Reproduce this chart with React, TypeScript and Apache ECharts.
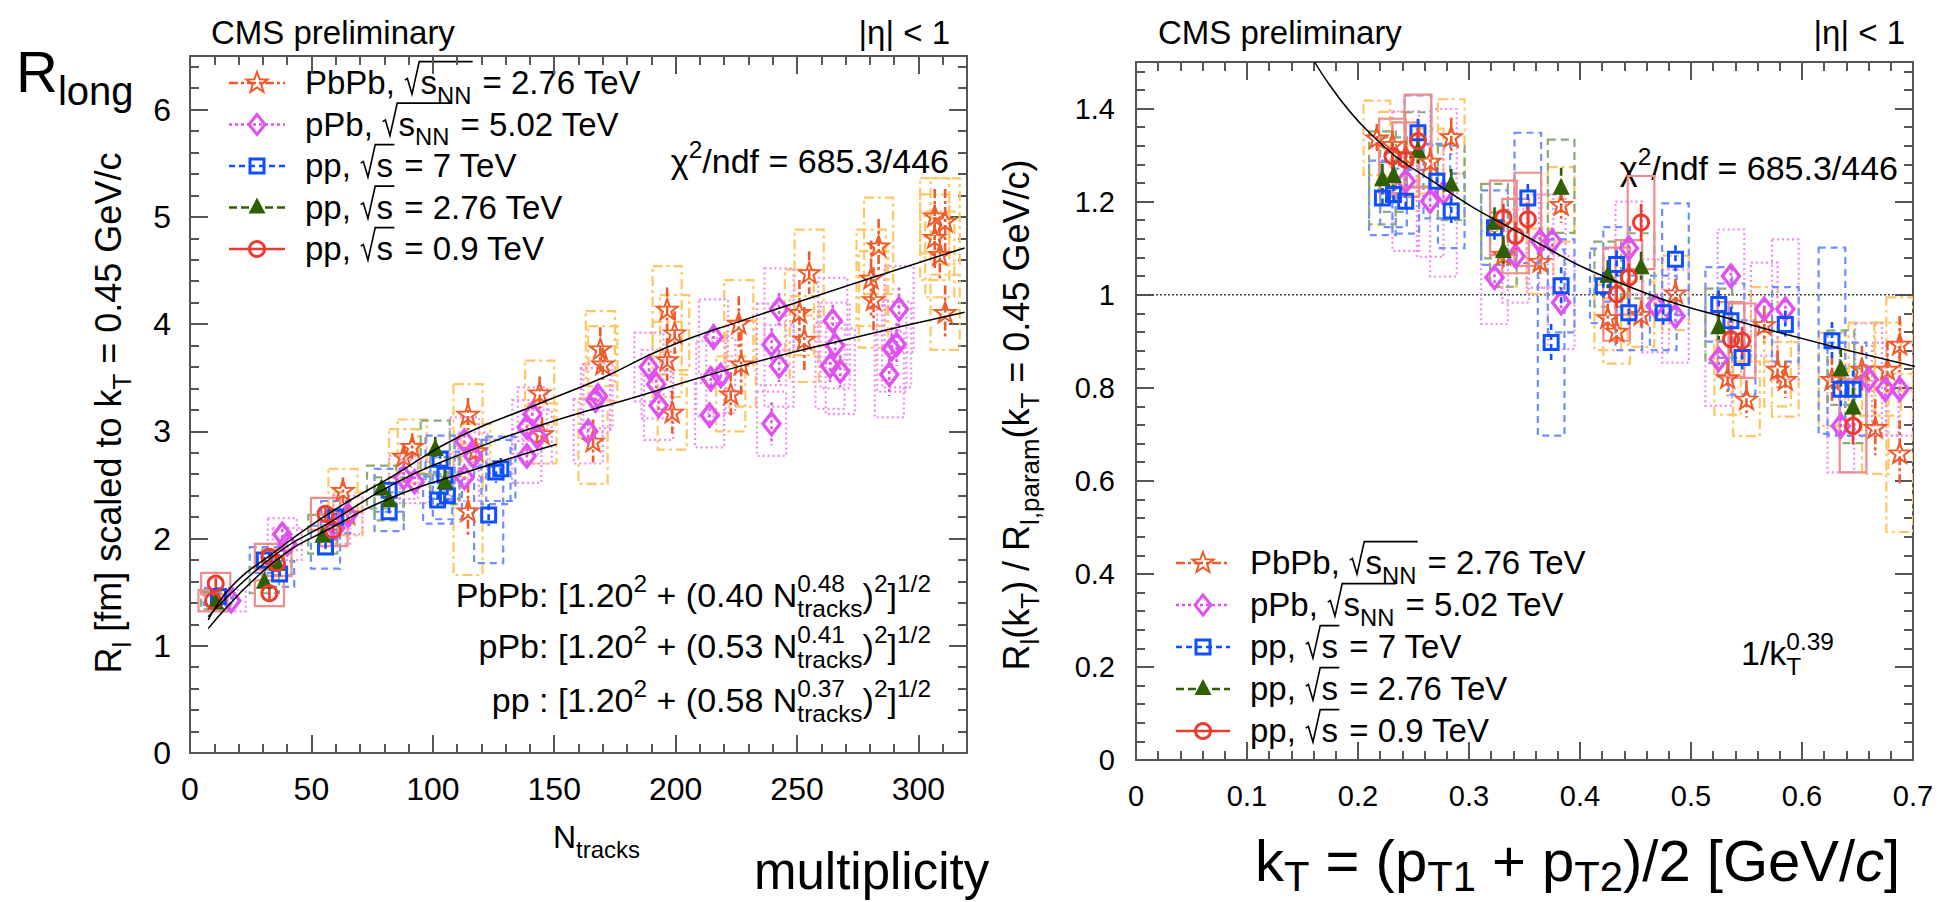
import React, { useEffect, useRef } from 'react';
import * as echarts from 'echarts';

const W = 1956;
const H = 902;
const FF = 'Liberation Sans';
const FONTCSS = '"Liberation Sans", Arial, Helvetica, sans-serif';

// ---------------- DATA ----------------
// Left panel: [Ntracks, R_l (fm), stat error, syst error]
const multPbPb = [
  [63, 2.45, 0.12, 0.2], [65, 2.23, 0.1, 0.2], [88, 2.77, 0.1, 0.25], [91.5, 2.86, 0.12, 0.25],
  [114.5, 3.16, 0.15, 0.28], [114.5, 2.26, 0.25, 0.6], [117.7, 2.82, 0.12, 0.25],
  [144, 3.36, 0.15, 0.3], [145, 2.98, 0.15, 0.28], [166, 2.91, 0.2, 0.4], [169, 3.77, 0.2, 0.35],
  [170, 3.63, 0.15, 0.35], [196.5, 4.14, 0.2, 0.4], [199.6, 3.92, 0.2, 0.35], [196.5, 3.67, 0.2, 0.35],
  [198.6, 3.18, 0.2, 0.35], [226, 4.01, 0.25, 0.4], [227, 3.63, 0.3, 0.4], [222.7, 3.35, 0.2, 0.35],
  [255, 4.48, 0.2, 0.4], [251, 4.11, 0.3, 0.4], [253, 3.86, 0.3, 0.4], [283.6, 4.73, 0.25, 0.45],
  [280.5, 4.43, 0.35, 0.45], [281.5, 4.23, 0.3, 0.45], [306.7, 5.01, 0.25, 0.35], [311, 4.96, 0.3, 0.4],
  [306.7, 4.81, 0.3, 0.4], [308.8, 4.65, 0.25, 0.4], [311, 4.11, 0.25, 0.35],
];
const multPPb = [
  [17, 1.42, 0.04, 0.1], [38, 2.04, 0.05, 0.15], [40, 1.95, 0.05, 0.15], [60, 2.1, 0.05, 0.15],
  [65, 2.22, 0.05, 0.18], [88, 2.57, 0.05, 0.2], [92.5, 2.53, 0.05, 0.2], [113, 2.91, 0.06, 0.22],
  [113, 2.57, 0.06, 0.22], [116.6, 2.77, 0.06, 0.22], [138.7, 3.04, 0.07, 0.25], [138.7, 2.77, 0.07, 0.25],
  [141, 3.16, 0.07, 0.25], [143, 2.95, 0.07, 0.25], [164, 3.0, 0.08, 0.3], [167, 3.29, 0.08, 0.3],
  [168, 3.33, 0.08, 0.3], [189, 3.6, 0.1, 0.32], [192, 3.44, 0.1, 0.32], [193, 3.24, 0.1, 0.32],
  [215.6, 3.88, 0.12, 0.35], [214.5, 3.49, 0.12, 0.35], [218.6, 3.52, 0.12, 0.35], [214, 3.15, 0.12, 0.3],
  [242.6, 4.14, 0.15, 0.38], [239.5, 3.81, 0.15, 0.38], [242.6, 3.61, 0.15, 0.38], [239.5, 3.07, 0.2, 0.3],
  [264.7, 4.03, 0.15, 0.4], [265.7, 3.8, 0.15, 0.4], [263.6, 3.61, 0.15, 0.4], [267.8, 3.56, 0.15, 0.4],
  [292, 4.14, 0.2, 0.4], [291, 3.81, 0.2, 0.4], [289, 3.77, 0.2, 0.4], [288, 3.53, 0.2, 0.4],
];
const multPP7 = [
  [11.7, 1.46, 0.03, 0.08], [30.6, 1.8, 0.03, 0.12], [36.9, 1.67, 0.03, 0.12], [55.8, 1.92, 0.04, 0.2],
  [60, 2.2, 0.04, 0.15], [82, 2.45, 0.04, 0.2], [82, 2.25, 0.04, 0.18], [102, 2.36, 0.06, 0.22],
  [106, 2.4, 0.06, 0.22], [105, 2.59, 0.06, 0.22], [103, 2.74, 0.06, 0.22], [123, 2.22, 0.1, 0.45],
  [126, 2.62, 0.1, 0.3], [128, 2.65, 0.1, 0.3],
];
const multPP276 = [
  [10.6, 1.42, 0.03, 0.08], [30.6, 1.61, 0.04, 0.12], [35.8, 1.78, 0.04, 0.12], [54.7, 2.04, 0.05, 0.18],
  [78.9, 2.48, 0.06, 0.2], [82, 2.37, 0.06, 0.2], [101, 2.85, 0.1, 0.25], [105, 2.54, 0.1, 0.22],
];
const multPP09 = [
  [10.6, 1.58, 0.05, 0.1], [9.5, 1.42, 0.05, 0.1], [32.7, 1.83, 0.05, 0.12], [32.7, 1.49, 0.06, 0.12],
  [35.8, 1.77, 0.05, 0.12], [55.8, 2.23, 0.06, 0.15], [58.9, 2.08, 0.06, 0.15],
];
const multBoxHalfW = 6; // N_tracks uncertainty of the systematic boxes

// fit curves: [Ntracks, R_l]
const fitPbPb = [[7.5, 1.24], [17, 1.55], [34, 1.86], [59, 2.26], [84, 2.59], [110, 2.94], [143, 3.25], [170, 3.5], [195, 3.77], [227, 4.03], [319, 4.71]];
const fitPPb = [[7.5, 1.27], [34, 1.83], [59, 2.17], [84, 2.51], [112, 2.79], [143.5, 3.05], [185, 3.33], [227, 3.61], [269, 3.85], [319, 4.11]];
const fitPP = [[7.5, 1.16], [34, 1.77], [59, 2.11], [84, 2.39], [114, 2.62], [151, 2.88]];

// Right panel: [kT, ratio, stat error, syst error]
const ktPbPb = [
  [0.217, 1.337, 0.03, 0.08], [0.231, 1.323, 0.03, 0.07], [0.243, 1.301, 0.03, 0.07], [0.265, 1.287, 0.03, 0.07],
  [0.284, 1.34, 0.04, 0.08], [0.331, 1.087, 0.03, 0.07], [0.364, 1.072, 0.03, 0.07], [0.383, 1.194, 0.04, 0.08],
  [0.425, 0.951, 0.03, 0.07], [0.433, 0.922, 0.03, 0.07], [0.455, 0.958, 0.03, 0.07], [0.486, 1.004, 0.03, 0.08],
  [0.533, 0.822, 0.04, 0.08], [0.55, 0.776, 0.04, 0.08], [0.566, 0.936, 0.04, 0.08], [0.578, 0.84, 0.04, 0.08],
  [0.585, 0.818, 0.04, 0.08], [0.627, 0.818, 0.05, 0.1], [0.654, 0.84, 0.05, 0.1], [0.677, 0.84, 0.06, 0.1],
  [0.688, 0.894, 0.06, 0.1], [0.666, 0.715, 0.06, 0.1], [0.688, 0.66, 0.07, 0.17],
];
const ktPPb = [
  [0.243, 1.244, 0.02, 0.15], [0.265, 1.201, 0.02, 0.12], [0.277, 1.219, 0.02, 0.18], [0.323, 1.037, 0.02, 0.1],
  [0.342, 1.083, 0.02, 0.1], [0.364, 1.115, 0.02, 0.1], [0.375, 1.115, 0.02, 0.1], [0.383, 0.983, 0.02, 0.1],
  [0.444, 1.1, 0.02, 0.1], [0.468, 0.976, 0.02, 0.1], [0.486, 0.954, 0.02, 0.1], [0.525, 0.861, 0.02, 0.1],
  [0.536, 1.04, 0.02, 0.1], [0.566, 0.969, 0.02, 0.1], [0.585, 0.969, 0.02, 0.15], [0.635, 0.718, 0.03, 0.1],
  [0.66, 0.818, 0.03, 0.12], [0.675, 0.797, 0.03, 0.1], [0.688, 0.797, 0.03, 0.1],
];
const ktPP7 = [
  [0.222, 1.208, 0.02, 0.08], [0.232, 1.215, 0.02, 0.07], [0.243, 1.201, 0.02, 0.07], [0.254, 1.348, 0.03, 0.08],
  [0.271, 1.244, 0.03, 0.08], [0.284, 1.18, 0.03, 0.08], [0.323, 1.144, 0.03, 0.08], [0.353, 1.208, 0.03, 0.14],
  [0.374, 0.897, 0.04, 0.2], [0.383, 1.019, 0.04, 0.1], [0.421, 1.019, 0.03, 0.08], [0.433, 1.065, 0.03, 0.08],
  [0.444, 0.961, 0.03, 0.08], [0.475, 0.961, 0.03, 0.08], [0.486, 1.076, 0.03, 0.12], [0.525, 0.979, 0.03, 0.08],
  [0.536, 0.944, 0.03, 0.08], [0.546, 0.865, 0.03, 0.08], [0.585, 0.936, 0.03, 0.08], [0.627, 0.901, 0.04, 0.2],
  [0.635, 0.797, 0.04, 0.1], [0.646, 0.797, 0.04, 0.1],
];
const ktPP276 = [
  [0.222, 1.251, 0.03, 0.1], [0.232, 1.258, 0.03, 0.08], [0.254, 1.312, 0.03, 0.08], [0.284, 1.24, 0.03, 0.08],
  [0.323, 1.158, 0.03, 0.08], [0.331, 1.097, 0.03, 0.08], [0.383, 1.233, 0.04, 0.1], [0.425, 1.044, 0.03, 0.07],
  [0.455, 1.062, 0.03, 0.07], [0.525, 0.933, 0.03, 0.08], [0.635, 0.843, 0.04, 0.08], [0.646, 0.761, 0.04, 0.08],
];
const ktPP09 = [
  [0.231, 1.298, 0.03, 0.08], [0.254, 1.33, 0.03, 0.1], [0.243, 1.29, 0.03, 0.08], [0.331, 1.165, 0.03, 0.08],
  [0.342, 1.126, 0.03, 0.08], [0.353, 1.162, 0.03, 0.1], [0.433, 1.001, 0.03, 0.1], [0.444, 1.037, 0.03, 0.08],
  [0.455, 1.155, 0.04, 0.1], [0.536, 0.904, 0.03, 0.08], [0.546, 0.901, 0.03, 0.08], [0.646, 0.718, 0.04, 0.1],
];
const ktBoxHalfW = 0.012;
const fitKt = [[0.161, 1.5], [0.209, 1.351], [0.276, 1.23], [0.348, 1.13], [0.431, 1.03], [0.541, 0.944], [0.705, 0.844]];
const unity = [[0, 1], [0.7, 1]];

// axis ranges / ticks
const multAxis = { min: 0, max: 320, major: 50, minor: 10 };
const multRAxis = { min: 0, max: 6.5, major: 1, minor: 0.2 };
const ktAxis = { min: 0, max: 0.7, major: 0.1, minor: 0.02 };
const ratioAxis = { min: 0, max: 1.5, major: 0.2, minor: 0.04 };

// ---------------- STYLES ----------------
const STAR_PATH = 'path://M0,-10L2.35,-3.24L9.51,-3.09L3.8,1.24L5.88,8.09L0,4L-5.88,8.09L-3.8,1.24L-9.51,-3.09L-2.35,-3.24Z';
const STY: any = {
  pbpb: { mk: '#F05A28', box: '#FFC664', bdash: [10, 4, 3, 4], edash: [9, 3, 3, 3], sym: STAR_PATH, size: [21, 20], open: true, bw: 2, shape: 'star' },
  ppb: { mk: '#E052F0', box: '#F08CF0', bdash: [2, 3], edash: [3, 3], sym: 'diamond', size: [17, 22], open: true, bw: 3.5, shape: 'diamond' },
  pp7: { mk: '#0E50FF', box: '#6F8EFF', bdash: [7, 5], edash: [6, 4], sym: 'rect', size: 14, open: true, bw: 3, shape: 'square' },
  pp276: { mk: '#2F6000', box: '#8AAA7A', bdash: [8, 5], edash: [8, 4], sym: 'triangle', size: 17, open: false, bw: 0, shape: 'triangle' },
  pp09: { mk: '#EE3B30', box: '#F08C8C', bdash: null, edash: null, sym: 'circle', size: 15, open: true, bw: 3, shape: 'circle' },
};
const AX = '#555';

// ---------------- TEXT HELPERS ----------------
type TSeg = { t: string; s: number; dy?: number; it?: boolean };
type Seg = TSeg | { stack: [TSeg, TSeg] } | { sqrt: Seg[]; s: number };

let mctx: CanvasRenderingContext2D | null = null;
function tw(t: string, s: number, it?: boolean): number {
  if (!mctx) mctx = document.createElement('canvas').getContext('2d');
  mctx!.font = `${it ? 'italic ' : ''}${s}px ${FONTCSS}`;
  return mctx!.measureText(t).width;
}
function txt(p: TSeg, x: number, color: string) {
  const m = p.t.match(/^ +/);
  const lead = m ? tw(m[0], p.s, p.it) : 0;
  return {
    type: 'text', x: x + lead, y: (p.dy || 0) - 0.3465 * p.s, silent: true,
    style: {
      text: p.t.replace(/^ +/, ''), font: `${p.it ? 'italic ' : ''}${p.s}px ${FONTCSS}`, fill: color,
      align: 'left', verticalAlign: 'middle', textAlign: 'left', textVerticalAlign: 'middle',
    },
  };
}
function build(segs: Seg[], x0: number, out: any[], color: string): number {
  let x = x0;
  for (const seg of segs) {
    if ('stack' in seg) {
      let m = 0;
      for (const p of seg.stack) { out.push(txt(p, x, color)); m = Math.max(m, tw(p.t, p.s, p.it)); }
      x += m;
    } else if ('sqrt' in seg) {
      const s = seg.s;
      const end = build(seg.sqrt, x + 0.5 * s, out, color);
      out.push({
        type: 'polyline', silent: true,
        shape: { points: [[x + 0.02 * s, -0.42 * s], [x + 0.1 * s, -0.47 * s], [x + 0.24 * s, 0], [x + 0.46 * s, -0.98 * s], [end + 0.04 * s, -0.98 * s]] },
        style: { stroke: color, lineWidth: 1.6, fill: 'none' },
      });
      x = end + 0.06 * s;
    } else {
      out.push(txt(seg, x, color));
      x += tw(seg.t, seg.s, seg.it);
    }
  }
  return x;
}
function rich(segs: Seg[], x: number, y: number, align: string, sx = 1, rot = 0, color = '#000') {
  const w = build(segs, 0, [], color);
  const off = align === 'right' ? -w : align === 'center' ? -w / 2 : 0;
  const children: any[] = [];
  build(segs, off, children, color);
  return { type: 'group', x, y, scaleX: sx, rotation: rot, children, z: 100 };
}
const sub = (t: string, s: number, d = 0.28): TSeg => ({ t, s: s * 0.72, dy: s * d });
const sup = (t: string, s: number): TSeg => ({ t, s: s * 0.72, dy: -s * 0.45 });

// ---------------- LEGEND ----------------
function markerShape(st: any, cx: number, cy: number) {
  const stroke = { stroke: st.mk, lineWidth: st.shape === 'star' ? 2 : 3, fill: 'none' };
  if (st.shape === 'star') {
    const pts: number[][] = [];
    for (let i = 0; i < 10; i++) {
      const r = i % 2 === 0 ? 11 : 4.5;
      const a = -Math.PI / 2 + (i * Math.PI) / 5;
      pts.push([cx + r * Math.cos(a), cy + r * Math.sin(a)]);
    }
    return { type: 'polygon', shape: { points: pts }, style: stroke, z: 101 };
  }
  if (st.shape === 'diamond') return { type: 'polygon', shape: { points: [[cx, cy - 10], [cx + 8, cy], [cx, cy + 10], [cx - 8, cy]] }, style: stroke, z: 101 };
  if (st.shape === 'square') return { type: 'rect', shape: { x: cx - 7, y: cy - 7, width: 14, height: 14 }, style: stroke, z: 101 };
  if (st.shape === 'triangle') return { type: 'polygon', shape: { points: [[cx, cy - 10], [cx + 8.5, cy + 6], [cx - 8.5, cy + 6]] }, style: { fill: st.mk }, z: 101 };
  return { type: 'circle', shape: { cx, cy, r: 7.5 }, style: stroke, z: 101 };
}

const LS = 33;
const legendTexts: Seg[][] = [
  [{ t: 'PbPb, ', s: LS }, { sqrt: [{ t: 's', s: LS }, sub('NN', LS)], s: LS }, { t: ' = 2.76 TeV', s: LS }],
  [{ t: 'pPb, ', s: LS }, { sqrt: [{ t: 's', s: LS }, sub('NN', LS)], s: LS }, { t: ' = 5.02 TeV', s: LS }],
  [{ t: 'pp, ', s: LS }, { sqrt: [{ t: 's', s: LS }], s: LS }, { t: ' = 7 TeV', s: LS }],
  [{ t: 'pp, ', s: LS }, { sqrt: [{ t: 's', s: LS }], s: LS }, { t: ' = 2.76 TeV', s: LS }],
  [{ t: 'pp, ', s: LS }, { sqrt: [{ t: 's', s: LS }], s: LS }, { t: ' = 0.9 TeV', s: LS }],
];
const legendKeys = ['pbpb', 'ppb', 'pp7', 'pp276', 'pp09'];

function legend(mx: number, x1: number, x2: number, tx: number, rows: number[]) {
  const els: any[] = [];
  legendKeys.forEach((k, i) => {
    const st = STY[k];
    const cy = rows[i];
    els.push({ type: 'line', shape: { x1, y1: cy, x2, y2: cy }, style: { stroke: st.mk, lineWidth: 2.5, lineDash: st.edash || null }, z: 100 });
    els.push(markerShape(st, mx, cy));
    els.push(rich(legendTexts[i], tx, cy + 11, 'left'));
  });
  return els;
}

// ---------------- SERIES ----------------
function boxSeries(data: number[][], ax: number, halfW: number, st: any) {
  return {
    type: 'custom', xAxisIndex: ax, yAxisIndex: ax, data, clip: true, z: 2, silent: true,
    encode: { x: 0, y: 1 },
    renderItem: (_p: any, api: any) => {
      const x = api.value(0), y = api.value(1), s = api.value(3);
      const a = api.coord([x - halfW, y + s]);
      const b = api.coord([x + halfW, y - s]);
      return {
        type: 'rect', shape: { x: a[0], y: a[1], width: b[0] - a[0], height: b[1] - a[1] },
        style: { fill: 'none', stroke: st.box, lineWidth: 2.2, lineDash: st.bdash },
      };
    },
  };
}
function errSeries(data: number[][], ax: number, st: any) {
  return {
    type: 'custom', xAxisIndex: ax, yAxisIndex: ax, data, clip: true, z: 3, silent: true,
    encode: { x: 0, y: 1 },
    renderItem: (_p: any, api: any) => {
      const x = api.value(0), y = api.value(1), e = api.value(2);
      const a = api.coord([x, y + e]);
      const b = api.coord([x, y - e]);
      return {
        type: 'line', shape: { x1: a[0], y1: a[1], x2: b[0], y2: b[1] },
        style: { stroke: st.mk, lineWidth: 2.6, lineDash: st.edash },
      };
    },
  };
}
function markSeries(data: number[][], ax: number, st: any) {
  return {
    type: 'scatter', xAxisIndex: ax, yAxisIndex: ax, data, z: 4, silent: true,
    symbol: st.sym, symbolSize: st.size,
    itemStyle: st.open
      ? { color: 'rgba(0,0,0,0)', borderColor: st.mk, borderWidth: st.bw, opacity: 1 }
      : { color: st.mk, borderWidth: 0, opacity: 1 },
  };
}
function fitSeries(data: number[][], ax: number) {
  return {
    type: 'line', xAxisIndex: ax, yAxisIndex: ax, data, smooth: 0.5, symbol: 'none', showSymbol: false, z: 5, silent: true,
    lineStyle: { color: '#000', width: 1.5 },
  };
}

function axisSet(kind: string, grid: number, r: any, labelSize: number, margin: number, showMax: boolean) {
  const posA = kind === 'x' ? 'bottom' : 'left';
  const posB = kind === 'x' ? 'top' : 'right';
  const base = { type: 'value', gridIndex: grid, min: r.min, max: r.max, splitLine: { show: false }, minorTick: { show: false }, silent: true };
  const line = { show: true, onZero: false, lineStyle: { color: AX, width: 2 } };
  const noLine = { show: false, onZero: false };
  const tick = (len: number) => ({ show: true, inside: true, length: len, lineStyle: { color: AX, width: 2 } });
  return [
    { ...base, position: posA, interval: r.major, axisLine: line, axisTick: tick(18),
      axisLabel: { show: true, fontSize: labelSize, fontFamily: FF, color: '#000', margin, showMaxLabel: showMax, showMinLabel: true, hideOverlap: false } },
    { ...base, position: posA, interval: r.minor, axisLine: noLine, axisTick: tick(9), axisLabel: { show: false } },
    { ...base, position: posB, interval: r.major, axisLine: line, axisTick: tick(18), axisLabel: { show: false } },
    { ...base, position: posB, interval: r.minor, axisLine: noLine, axisTick: tick(9), axisLabel: { show: false } },
  ];
}

function buildOption() {
  const left = [
    ['pbpb', multPbPb], ['ppb', multPPb], ['pp7', multPP7], ['pp276', multPP276], ['pp09', multPP09],
  ] as [string, number[][]][];
  const right = [
    ['pbpb', ktPbPb], ['ppb', ktPPb], ['pp7', ktPP7], ['pp276', ktPP276], ['pp09', ktPP09],
  ] as [string, number[][]][];
  const series: any[] = [];
  left.forEach(([k, d]) => series.push(boxSeries(d, 0, multBoxHalfW, STY[k])));
  right.forEach(([k, d]) => series.push(boxSeries(d, 4, ktBoxHalfW, STY[k])));
  left.forEach(([k, d]) => series.push(errSeries(d, 0, STY[k])));
  right.forEach(([k, d]) => series.push(errSeries(d, 4, STY[k])));
  left.forEach(([k, d]) => series.push(markSeries(d, 0, STY[k])));
  right.forEach(([k, d]) => series.push(markSeries(d, 4, STY[k])));
  series.push(fitSeries(fitPbPb, 0), fitSeries(fitPPb, 0), fitSeries(fitPP, 0), fitSeries(fitKt, 4));
  series.push({
    type: 'line', xAxisIndex: 4, yAxisIndex: 4, data: unity, symbol: 'none', z: 1, silent: true,
    lineStyle: { color: '#444', width: 1.5, type: [2, 2] },
  });

  const S = 33;
  const F = 34;
  const formula = (label: string, a: string, b: string): Seg[] => [
    { t: label + ' [1.20', s: F }, sup('2', F), { t: ' + (' + a + ' N', s: F },
    { stack: [sup(b, F), sub('tracks', F)] }, { t: ')', s: F }, sup('2', F), { t: ']', s: F }, sup('1/2', F),
  ];
  const T = 36;
  const K = 58;
  const graphics: any[] = [
    // left panel texts
    rich([{ t: 'CMS preliminary', s: S }], 211, 44, 'left'),
    rich([{ t: '|η| < 1', s: S }], 950, 44, 'right'),
    rich([{ t: 'R', s: 58 }, { t: 'long', s: 40, dy: 13 }], 16, 92, 'left'),
    rich([{ t: 'R', s: T }, sub('l', T), { t: ' [fm] scaled to k', s: T }, sub('T', T), { t: ' = 0.45 GeV/c', s: T }], 121, 413, 'center', 1, Math.PI / 2),
    rich([{ t: 'χ', s: F }, sup('2', F), { t: '/ndf = 685.3/446', s: F }], 949, 173, 'right'),
    rich(formula('PbPb:', '0.40', '0.48'), 931, 607, 'right'),
    rich(formula('pPb:', '0.53', '0.41'), 931, 658, 'right'),
    rich(formula('pp :', '0.58', '0.37'), 931, 712, 'right'),
    rich([{ t: 'N', s: 32 }, { t: 'tracks', s: 24, dy: 10 }], 553, 848, 'left'),
    rich([{ t: 'multiplicity', s: 51 }], 754, 889, 'left'),
    ...legend(257, 229, 285, 305, [83, 124.5, 166, 207.5, 249]),
    // right panel texts
    rich([{ t: 'CMS preliminary', s: S }], 1158, 44, 'left'),
    rich([{ t: '|η| < 1', s: S }], 1905, 44, 'right'),
    rich([{ t: 'R', s: T }, sub('l', T), { t: '(k', s: T }, sub('T', T), { t: ') / R', s: T }, sub('l,param', T), { t: '(k', s: T }, sub('T', T), { t: ' = 0.45 GeV/c)', s: T }], 1029, 415, 'center', 1, Math.PI / 2),
    rich([{ t: 'χ', s: F }, sup('2', F), { t: '/ndf = 685.3/446', s: F }], 1898, 180, 'right'),
    rich([{ t: '1/k', s: F }, { stack: [sup('0.39', F), sub('T', F)] }], 1741, 665, 'left'),
    rich([{ t: 'k', s: K }, sub('T', K, 0.18), { t: ' = (p', s: K }, sub('T1', K, 0.18), { t: ' + p', s: K }, sub('T2', K, 0.18), { t: ')/2 [GeV/', s: K }, { t: 'c', s: K, it: true }, { t: ']', s: K }], 1255, 881, 'left'),
    ...legend(1203, 1176, 1230, 1250, [563, 605, 647, 689, 731]),
  ];

  return {
    animation: false,
    backgroundColor: '#fff',
    textStyle: { fontFamily: FF },
    grid: [
      { left: 190, top: 56, width: 777, height: 697, containLabel: false, outerBoundsMode: 'none' },
      { left: 1136, top: 62, width: 777, height: 698, containLabel: false, outerBoundsMode: 'none' },
    ],
    xAxis: [...axisSet('x', 0, multAxis, 32, 20, false), ...axisSet('x', 1, ktAxis, 29, 21, true)],
    yAxis: [...axisSet('y', 0, multRAxis, 32, 19, false), ...axisSet('y', 1, ratioAxis, 29, 21, false)],
    series,
    graphic: { elements: graphics },
  };
}

export default function App() {
  const ref = useRef<HTMLDivElement>(null);
  useEffect(() => {
    document.body.style.margin = '0';
    if (!ref.current) return;
    const chart = echarts.init(ref.current, undefined, { renderer: 'svg', width: W, height: H });
    chart.setOption(buildOption() as any);
    return () => chart.dispose();
  }, []);
  return <div ref={ref} style={{ position: 'fixed', left: 0, top: 0, width: W, height: H, background: '#fff' }} />;
}
